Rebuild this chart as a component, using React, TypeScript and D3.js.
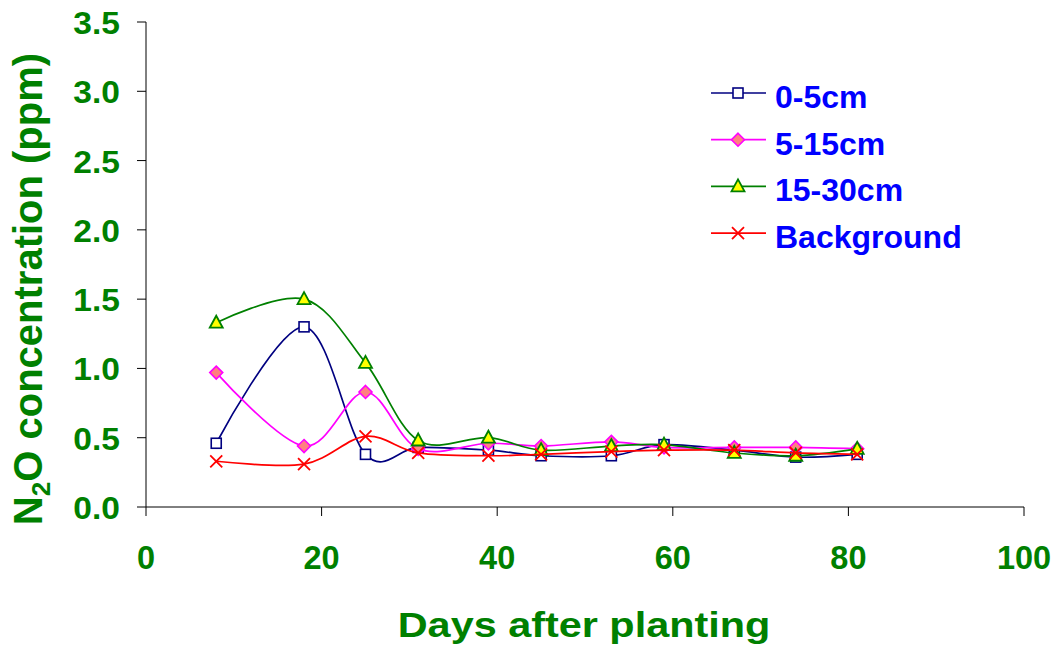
import React from 'react'
import * as d3 from 'd3'

const days = [8, 18, 25, 31, 39, 45, 53, 59, 67, 74, 81]
const depth0to5 = [0.46, 1.3, 0.38, 0.43, 0.41, 0.37, 0.37, 0.45, 0.41, 0.36, 0.38]
const depth5to15 = [0.97, 0.44, 0.83, 0.42, 0.46, 0.44, 0.47, 0.43, 0.43, 0.43, 0.42]
const depth15to30 = [1.33, 1.5, 1.04, 0.48, 0.5, 0.41, 0.44, 0.45, 0.39, 0.37, 0.42]
const background = [0.33, 0.31, 0.51, 0.39, 0.37, 0.38, 0.4, 0.41, 0.41, 0.39, 0.38]

const xTicks = [0, 20, 40, 60, 80, 100]
const yTicks = [0, 0.5, 1, 1.5, 2, 2.5, 3, 3.5]

type Marker = 'square' | 'diamond' | 'triangle' | 'cross'

const series: { name: string; values: number[]; color: string; fill: string; marker: Marker }[] = [
  { name: '0-5cm', values: depth0to5, color: '#000080', fill: '#ffffff', marker: 'square' },
  { name: '5-15cm', values: depth5to15, color: '#ff00ff', fill: '#ff8080', marker: 'diamond' },
  { name: '15-30cm', values: depth15to30, color: '#008000', fill: '#ffff00', marker: 'triangle' },
  { name: 'Background', values: background, color: '#ff0000', fill: 'none', marker: 'cross' }
]

const width = 1059
const height = 652
const plot = { left: 146, right: 1024, top: 22, bottom: 507 }
const green = '#008000'
const font = 'Arial, "Liberation Sans", sans-serif'

const MarkerShape: React.FC<{ kind: Marker; x: number; y: number; color: string; fill: string }> = ({ kind, x, y, color, fill }) => {
  if (kind === 'square') {
    return <rect x={x - 5} y={y - 5} width={10} height={10} fill={fill} stroke={color} strokeWidth={1.6} />
  }
  if (kind === 'diamond') {
    return <path d={`M${x},${y - 6.5}L${x + 6.5},${y}L${x},${y + 6.5}L${x - 6.5},${y}Z`} fill={fill} stroke={color} strokeWidth={1.6} />
  }
  if (kind === 'triangle') {
    return <path d={`M${x},${y - 7}L${x + 6.5},${y + 5}L${x - 6.5},${y + 5}Z`} fill={fill} stroke={color} strokeWidth={1.8} />
  }
  return <path d={`M${x - 6},${y - 6}L${x + 6},${y + 6}M${x + 6},${y - 6}L${x - 6},${y + 6}`} stroke={color} strokeWidth={1.8} fill="none" />
}

export default function App() {
  const x = d3.scaleLinear().domain([0, 100]).range([plot.left, plot.right])
  const y = d3.scaleLinear().domain([0, 3.5]).range([plot.bottom, plot.top])

  const line = d3
    .line<number>()
    .x((_, i) => x(days[i]))
    .y((d) => y(d))
    .curve(d3.curveCardinal.tension(0))

  const legendX = 711
  const legendY = 93
  const legendStep = 46.7

  return (
    <svg
      width={width}
      height={height}
      style={{ position: 'absolute', left: 0, top: 0, background: '#fff' }}
      fontFamily={font}
      fontWeight="bold"
    >
      {/* axes */}
      <line x1={plot.left} x2={plot.left} y1={plot.top} y2={plot.bottom} stroke="#000" strokeWidth={1} />
      <line x1={plot.left} x2={plot.right} y1={plot.bottom} y2={plot.bottom} stroke="#000" strokeWidth={1} />
      {yTicks.map((t) => (
        <g key={`y${t}`}>
          <line x1={plot.left - 9} x2={plot.left} y1={y(t)} y2={y(t)} stroke="#000" />
          <text
            transform={`translate(120,${y(t) + 12}) scale(1.1,1)`}
            textAnchor="end"
            fontSize={30.5}
            fill={green}
          >
            {t.toFixed(1)}
          </text>
        </g>
      ))}
      {xTicks.map((t) => (
        <g key={`x${t}`}>
          <line x1={x(t)} x2={x(t)} y1={plot.bottom} y2={plot.bottom + 9} stroke="#000" />
          <text x={x(t)} y={569} textAnchor="middle" fontSize={32.5} fill={green}>
            {t}
          </text>
        </g>
      ))}

      {/* axis titles */}
      <text
        transform={`translate(${(plot.left + plot.right) / 2 - 1},637) scale(1.15,1)`}
        textAnchor="middle"
        fontSize={36}
        fill={green}
      >
        Days after planting
      </text>
      <text transform="translate(42,289) rotate(-90)" textAnchor="middle" fontSize={40} fill={green}>
        N<tspan fontSize={26} dy={8}>2</tspan>
        <tspan dy={-8}>O concentration (ppm)</tspan>
      </text>

      {/* series */}
      {series.map((s) => (
        <g key={s.name}>
          <path d={line(s.values) ?? ''} fill="none" stroke={s.color} strokeWidth={1.7} />
          {s.values.map((v, i) => (
            <MarkerShape key={i} kind={s.marker} x={x(days[i])} y={y(v)} color={s.color} fill={s.fill} />
          ))}
        </g>
      ))}

      {/* legend */}
      {series.map((s, i) => {
        const ly = legendY + i * legendStep
        return (
          <g key={`legend-${s.name}`}>
            <line x1={legendX} x2={legendX + 55} y1={ly} y2={ly} stroke={s.color} strokeWidth={1.7} />
            <MarkerShape kind={s.marker} x={legendX + 27} y={ly} color={s.color} fill={s.fill} />
            <text x={775} y={ly + 15} fontSize={32} fill="#0000ff">
              {s.name}
            </text>
          </g>
        )
      })}
    </svg>
  )
}
